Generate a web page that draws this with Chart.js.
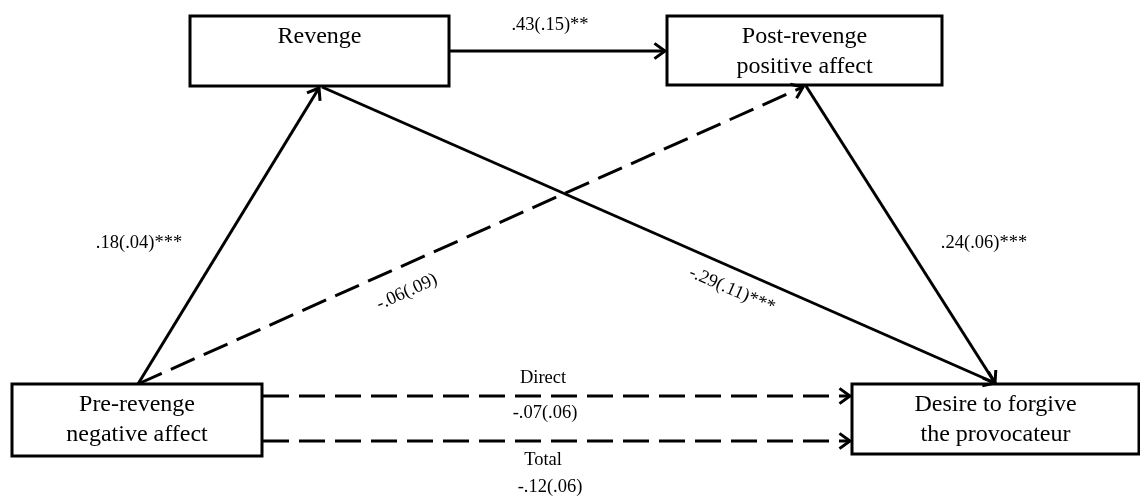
<!DOCTYPE html>
<html>
<head>
<meta charset="utf-8">
<script src="https://cdn.jsdelivr.net/npm/chart.js@4/dist/chart.umd.min.js"></script>
<style>
  html, body { margin: 0; padding: 0; background: #ffffff; }
  #wrap { width: 1140px; height: 497px; }
</style>
</head>
<body>
<div id="wrap"><canvas id="c" width="1140" height="497"></canvas></div>
<script>
// Variables in the mediation model
const nodeNames = ['Revenge', 'Post-revenge\npositive affect', 'Pre-revenge\nnegative affect', 'Desire to forgive\nthe provocateur'];

// Paths: source -> target, coefficient (SE) and significance stars
const pathFrom   = [0, 2, 2, 0, 1, 2, 2];
const pathTo     = [1, 0, 1, 3, 3, 3, 3];
const pathCoef   = ['.43', '.18', '-.06', '-.29', '.24', '-.07', '-.12'];
const pathSE     = ['.15', '.04', '.09', '.11', '.06', '.06', '.06'];
const pathStars  = ['**', '***', '', '***', '***', '', ''];
const pathSig    = [true, true, false, true, true, false, false];
const pathTitle  = ['', '', '', '', '', 'Direct', 'Total'];

// ---- layout (drawing units on a 1140 x 497 plane) ----
const boxes = [
  { x0: 190, y0: 16,  x1: 449,  y1: 86 },
  { x0: 667, y0: 16,  x1: 942,  y1: 85 },
  { x0: 12,  y0: 384, x1: 262,  y1: 456 },
  { x0: 852, y0: 384, x1: 1139, y1: 454 }
];
// anchor points of each path (start, end)
const anchors = [
  [[449, 51], [665, 51]],
  [[138, 384], [319, 88]],
  [[138, 384], [803, 87]],
  [[322, 87], [995, 383]],
  [[806, 86], [995, 383]],
  [[263, 396], [850, 396]],
  [[263, 441], [850, 441]]
];
// label placement: [x, y, rotation in degrees]
const labelPos = [
  [550, 25, 0],
  [139, 243, 0],
  [407, 292, -24.5],
  [732, 290, 23.5],
  [984, 243, 0],
  [545, 413, 0],
  [550, 487, 0]
];
const titlePos = [null, null, null, null, null, [543, 378], [543, 460]];

const serif = '"Liberation Serif", "Times New Roman", serif';

const datasets = pathFrom.map((f, i) => ({
  label: nodeNames[f] + ' -> ' + nodeNames[pathTo[i]],
  data: [{ x: anchors[i][0][0], y: anchors[i][0][1] }, { x: anchors[i][1][0], y: anchors[i][1][1] }],
  showLine: true,
  borderColor: '#000',
  borderWidth: 3,
  borderDash: pathSig[i] ? [] : [26, 10],
  pointRadius: 0,
  fill: false
}));

const diagramPlugin = {
  id: 'diagram',
  afterDatasetsDraw(chart) {
    const ctx = chart.ctx;
    const xs = chart.scales.x, ys = chart.scales.y;
    ctx.save();
    ctx.strokeStyle = '#000';
    ctx.fillStyle = '#000';
    ctx.lineWidth = 3;
    ctx.lineJoin = 'miter';
    ctx.lineCap = 'butt';

    // arrowheads
    chart.data.datasets.forEach((ds, i) => {
      const pts = chart.getDatasetMeta(i).data;
      const a = pts[0], b = pts[1];
      const ang = Math.atan2(b.y - a.y, b.x - a.x);
      const len = 13, spread = Math.PI / 5;
      ctx.setLineDash([]);
      ctx.beginPath();
      ctx.moveTo(b.x - len * Math.cos(ang - spread), b.y - len * Math.sin(ang - spread));
      ctx.lineTo(b.x, b.y);
      ctx.lineTo(b.x - len * Math.cos(ang + spread), b.y - len * Math.sin(ang + spread));
      ctx.stroke();
    });

    // variable boxes
    boxes.forEach((bx, i) => {
      const l = xs.getPixelForValue(bx.x0), r = xs.getPixelForValue(bx.x1);
      const t = ys.getPixelForValue(bx.y0), btm = ys.getPixelForValue(bx.y1);
      ctx.setLineDash([]);
      ctx.lineWidth = 3;
      ctx.strokeRect(l, t, r - l, btm - t);
      ctx.font = '24px ' + serif;
      ctx.textAlign = 'center';
      ctx.textBaseline = 'middle';
      const lines = nodeNames[i].split('\n');
      lines.forEach((ln, k) => {
        ctx.fillText(ln, (l + r) / 2, t + 21 + k * 30);
      });
    });

    // path coefficients
    ctx.font = '18.5px ' + serif;
    ctx.textAlign = 'center';
    ctx.textBaseline = 'middle';
    pathCoef.forEach((c, i) => {
      const txt = c + '(' + pathSE[i] + ')' + pathStars[i];
      const p = labelPos[i];
      ctx.save();
      ctx.translate(xs.getPixelForValue(p[0]), ys.getPixelForValue(p[1]));
      ctx.rotate(p[2] * Math.PI / 180);
      ctx.fillText(txt, 0, 0);
      ctx.restore();
      if (pathTitle[i]) {
        const tp = titlePos[i];
        ctx.fillText(pathTitle[i], xs.getPixelForValue(tp[0]), ys.getPixelForValue(tp[1]));
      }
    });
    ctx.restore();
  }
};

new Chart(document.getElementById('c'), {
  type: 'scatter',
  data: { datasets },
  options: {
    responsive: false,
    animation: false,
    layout: { padding: 0 },
    plugins: { legend: { display: false }, tooltip: { enabled: false } },
    scales: {
      x: { type: 'linear', min: 0, max: 1140, display: false },
      y: { type: 'linear', min: 0, max: 497, reverse: true, display: false }
    }
  },
  plugins: [diagramPlugin]
});
</script>
</body>
</html>
